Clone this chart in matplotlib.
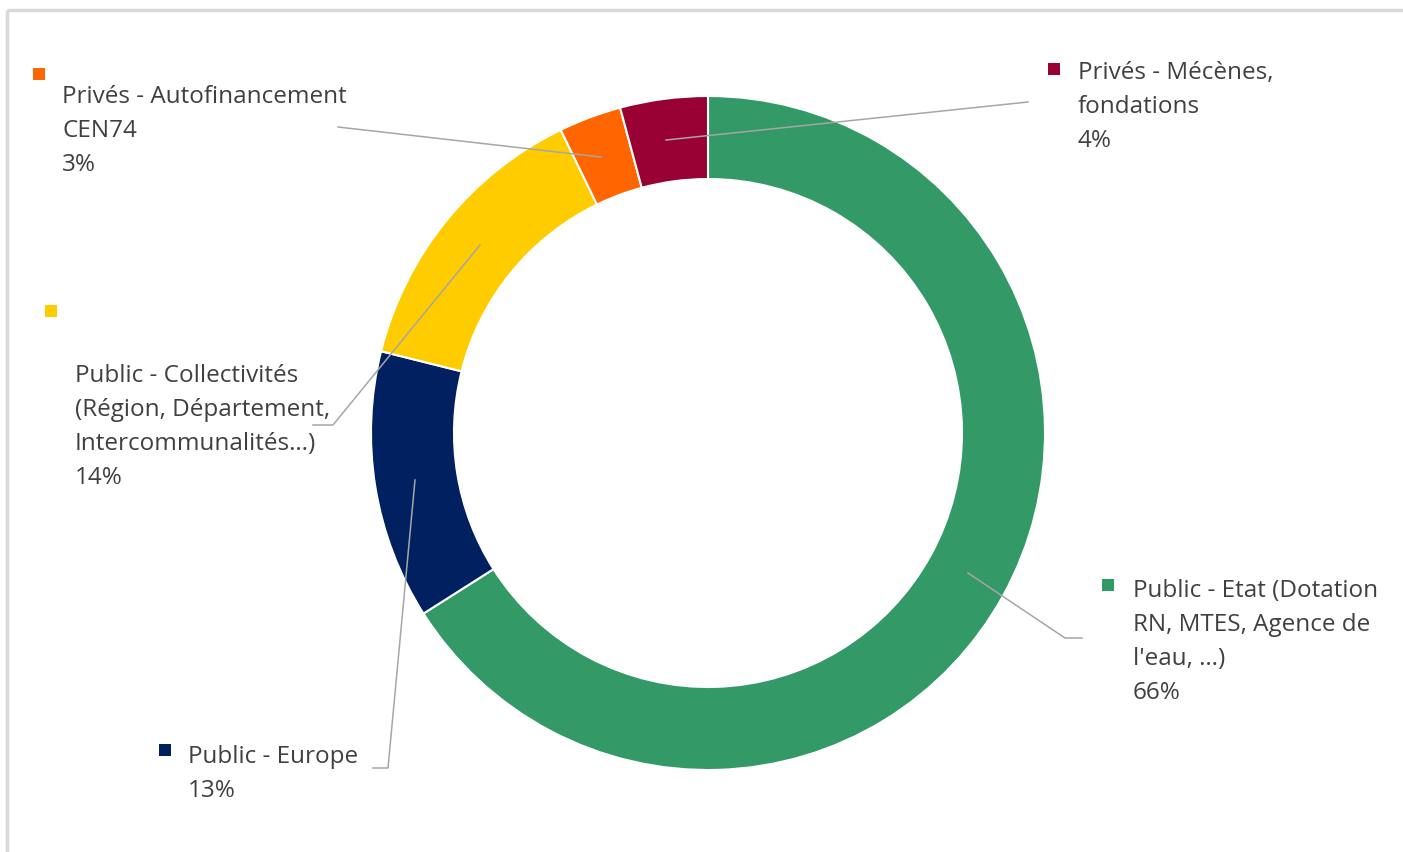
import matplotlib
matplotlib.use("Agg")
import matplotlib.pyplot as plt
from matplotlib.patches import Rectangle

plt.rcParams['font.family'] = ['Open Sans', 'DejaVu Sans']

# data (clockwise from top)
labels = ["Public - Etat (Dotation\nRN, MTES, Agence de\nl'eau, …)",
          "Public - Europe",
          "Public - Collectivités\n(Région, Département,\nIntercommunalités…)",
          "Privés - Autofinancement\nCEN74",
          "Privés - Mécènes,\nfondations"]
values = [66.0, 12.9, 13.9, 3.0, 4.2]
colors = ["#339966", "#002060", "#FFCC00", "#FF6600", "#990033"]

W, H = 1403, 852
text_col = "#404040"
line_col = "#A6A6A6"

fig = plt.figure(figsize=(W / 100, H / 100), dpi=100)
ax = fig.add_axes([0, 0, 1, 1])


def py(y):
    # pixel row (top-down) -> data y
    return H - y


cx, cy, r_out, ring = 708, 433, 337, 83
ax.pie(values, colors=colors, startangle=90, counterclock=False,
       center=(cx, py(cy)), radius=r_out,
       wedgeprops=dict(width=ring, edgecolor="white", linewidth=1.5))
ax.set_xlim(0, W)
ax.set_ylim(0, H)
ax.set_aspect("equal")
ax.axis("off")

# chart area border (top and left visible)
ax.plot([7, W], [py(10), py(10)], color="#D9D9D9", lw=2.5, solid_capstyle="butt")
ax.plot([7, 7], [py(10), 0], color="#D9D9D9", lw=2.5, solid_capstyle="butt")

# leader lines
leaders = [
    [(968, 573), (1065, 638), (1082, 638)],
    [(415, 480), (388, 768), (373, 768)],
    [(480, 245), (333, 425), (313, 425)],
    [(601, 157), (338, 127)],
    [(666, 140), (1028, 102)],
]
for pts in leaders:
    ax.plot([p[0] for p in pts], [py(p[1]) for p in pts],
            color=line_col, lw=1.1)

# label blocks: marker position, text top-left
label_pos = [
    ((1108, 585), (1133, 579)),
    ((165, 750), (188, 745)),
    ((51, 311), (75, 364)),
    ((39, 74), (62, 85)),
    ((1054, 69), (1078, 61)),
]
fs = 17.5
for lab, val, col, (mk, tp) in zip(labels, values, colors, label_pos):
    ax.add_patch(Rectangle((mk[0] - 6, py(mk[1]) - 6), 12, 12,
                           facecolor=col, edgecolor="none"))
    ax.text(tp[0], py(tp[1]), f"{lab}\n{round(val)}%", ha="left", va="top",
            fontsize=fs, color=text_col, linespacing=1.55)

fig.savefig("out.png", dpi=100, facecolor="white")
